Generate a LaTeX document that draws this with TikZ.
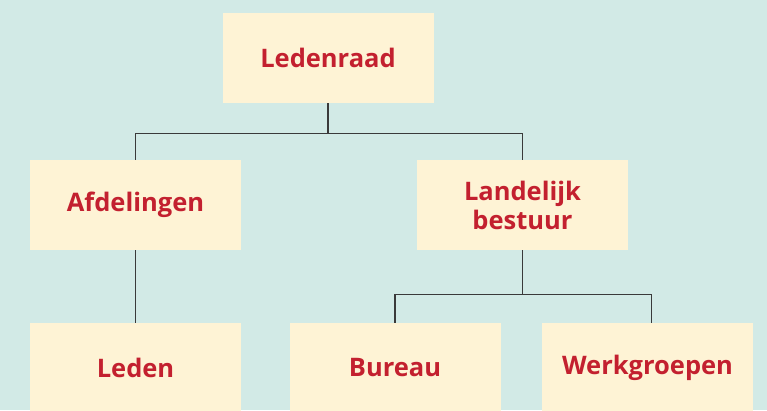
\documentclass[tikz,border=0pt]{standalone}
\usepackage{xcolor}
\usepackage{fontspec}
\setmainfont{Open Sans}
\usetikzlibrary{calc}

\definecolor{achtergrond}{HTML}{D2EAE6}
\definecolor{vak}{HTML}{FEF3D5}
\definecolor{rood}{HTML}{C3202F}
\definecolor{lijn}{HTML}{3A3A3A}

\tikzset{
  vakje/.style={fill=vak, text=rood, minimum width=211pt, minimum height=90pt,
    inner sep=0pt, align=center, font=\fontsize{25.5}{29}\selectfont\bfseries},
  tak/.style={draw=lijn, line width=1.1pt}
}

\begin{document}
\begin{tikzpicture}[x=1pt,y=-1pt]
   \clip (0,0) rectangle (767,410);
   \fill[achtergrond] (0,0) rectangle (767,410);
   % bovenste laag
   \node[vakje](lr) at (328,58) {Ledenraad};
   % tweede laag
   \node[vakje](afd) at (135.5,205) {Afdelingen};
   \node[vakje](lb) at (522.5,205) {Landelijk\\bestuur};
   % onderste laag
   \node[vakje](ld) at (135.5,368) {Leden};
   \node[vakje](bu) at (395,368) {Bureau};
   \node[vakje](wg) at (647.5,368) {Werkgroepen};
   \draw[tak,-] (lr.south) -- ++(0,30) -| (afd.north);
   \draw[tak,-] (lr.south) ++(0,30) -| (lb.north);
   \draw[tak,-] (afd.south) -- (ld.north);
   \draw[tak,-] (lb.south) -- ++(0,44) -| (bu.north);
   \draw[tak,-] (lb.south) ++(0,44) -| ($(wg.north)+(4,0)$);
\end{tikzpicture}
\end{document}
